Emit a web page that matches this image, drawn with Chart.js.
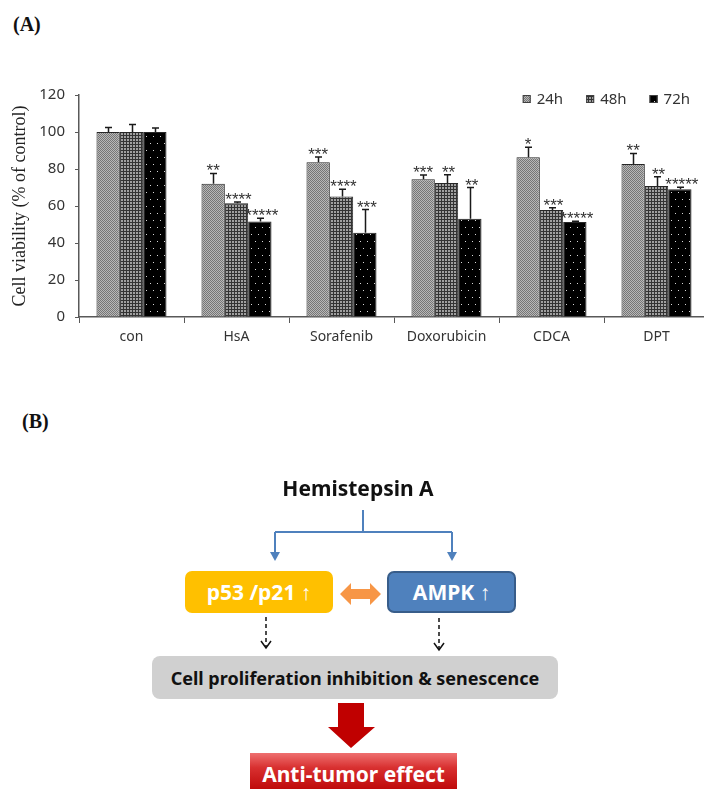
<!DOCTYPE html>
<html>
<head>
<meta charset="utf-8">
<script src="https://cdn.jsdelivr.net/npm/chart.js@4/dist/chart.umd.min.js"></script>
<style>
  html, body { margin:0; padding:0; background:#fff; }
  body { width:704px; height:789px; overflow:hidden; position:relative; }
  #wrap { position:absolute; left:0; top:0; width:716px; height:370px; }
  .lbl { position:absolute; font-family:"Liberation Serif", serif; font-weight:bold; font-size:20px; color:#111; }
  .box { position:absolute; display:flex; align-items:center; justify-content:center; box-sizing:border-box;
         font-family:"Noto Sans", sans-serif; font-weight:bold; white-space:nowrap; }
  svg { position:absolute; left:0; top:0; }
</style>
</head>
<body>
<div class="lbl" style="left:13px; top:13px;">(A)</div>
<div id="wrap"><canvas id="c" width="716" height="370"></canvas></div>

<div class="lbl" style="left:22px; top:410px;">(B)</div>
<svg width="704" height="789">
  <g stroke="#4F81BD" stroke-width="2" fill="none">
    <path d="M363 510 V532 M275 532 H452 M275 532 V553 M452 532 V553"/>
  </g>
  <polygon points="270,552 280,552 275,561" fill="#4F81BD"/>
  <polygon points="447,552 457,552 452,561" fill="#4F81BD"/>
  <polygon points="340,594 351,583 351,589 370,589 370,583 381,594 370,605 370,599 351,599 351,605" fill="#F79646"/>
  <g stroke="#111" stroke-width="1.5" fill="none">
    <path d="M266 617 V647" stroke-dasharray="4,3"/>
    <path d="M261 641 L266 648 L271 641"/>
    <path d="M439 618 V649" stroke-dasharray="4,3"/>
    <path d="M434 643 L439 650 L444 643"/>
  </g>
  <polygon points="338,703 364,703 364,727 375,727 351,748 328,727 338,727" fill="#C00000"/>
</svg>
<div class="box" style="left:273px; top:475px; width:170px; height:26px; font-size:21px; color:#111;">Hemistepsin A</div>
<div class="box" style="left:185px; top:571px; width:148px; height:42px; border-radius:7px; background:#FFC000; color:#fff; font-size:21px;">p53 /p21 ↑</div>
<div class="box" style="left:387px; top:571px; width:129px; height:42px; border-radius:7px; background:#4F81BD; border:2px solid #385D8A; color:#fff; font-size:21px;">AMPK ↑</div>
<div class="box" style="left:152px; top:656px; width:406px; height:43px; border-radius:8px; background:#D0D0D0; color:#111; font-size:18px;">Cell proliferation inhibition &amp; senescence</div>
<div class="box" style="left:250px; top:753px; width:207px; height:42px; background:linear-gradient(#EE7070 0%, #D83030 35%, #B80000 100%); color:#fff; font-size:21px;">Anti-tumor effect</div>

<script>
// ---------------- data ----------------
const categories = ['con', 'HsA', 'Sorafenib', 'Doxorubicin', 'CDCA', 'DPT'];
const seriesLabels = ['24h', '48h', '72h'];
const values24 = [100, 72.0, 83.6, 74.5, 86.3, 82.7];
const values48 = [100, 61.5, 65.2, 72.4, 57.8, 70.8];
const values72 = [100, 51.6, 45.5, 53.1, 51.3, 69.0];
const err24 = [2.5, 5.6, 2.9, 2.2, 5.4, 5.7];
const err48 = [4.0, 0.6, 3.8, 4.5, 1.2, 5.0];
const err72 = [2.2, 1.8, 12.6, 16.9, 0.5, 1.2];
const sig24 = ['', '**', '***', '***', '*', '**'];
const sig48 = ['', '****', '****', '**', '***', '**'];
const sig72 = ['', '*****', '***', '**', '*****', '*****'];
const yTicks = [0, 20, 40, 60, 80, 100, 120];

const errs = [err24, err48, err72];
const sigs = [sig24, sig48, sig72];

// ---------------- patterns ----------------
function pat(w, h, draw) {
  const c = document.createElement('canvas'); c.width = w; c.height = h;
  const g = c.getContext('2d'); draw(g);
  return document.getElementById('c').getContext('2d').createPattern(c, 'repeat');
}
const p24 = pat(4, 4, g => {
  g.fillStyle = '#b8b8b8'; g.fillRect(0, 0, 4, 4);
  g.fillStyle = '#767676';
  [[0,0],[1,1],[2,0],[3,1],[0,2],[1,3],[2,2],[3,3]].forEach(([x,y]) => g.fillRect(x, y, 1, 1));
});
const p48 = pat(3, 3, g => {
  g.fillStyle = '#a0a0a0'; g.fillRect(0, 0, 3, 3);
  g.fillStyle = '#333333'; g.fillRect(0, 0, 1, 3); g.fillRect(0, 0, 3, 1);
});
const p72 = pat(14, 14, g => {
  g.fillStyle = '#000'; g.fillRect(0, 0, 14, 14);
  g.fillStyle = '#d8d8d8';
  [[3,3],[10,3],[6,10],[13,10]].forEach(([x,y]) => g.fillRect(x, y, 1, 1));
});
const patterns = [p24, p48, p72];

// ---------------- plugins ----------------
const errorPlugin = {
  id: 'errs',
  afterDatasetsDraw(chart) {
    const ctx = chart.ctx, ys = chart.scales.y;
    ctx.save();
    chart.data.datasets.forEach((ds, di) => {
      const meta = chart.getDatasetMeta(di);
      meta.data.forEach((bar, i) => {
        const top = ys.getPixelForValue(ds.data[i] + errs[di][i]);
        const x = Math.round(bar.x) + 0.5;
        ctx.strokeStyle = '#1a1a1a'; ctx.lineWidth = 1.5;
        ctx.beginPath();
        ctx.moveTo(x, bar.y); ctx.lineTo(x, top);
        ctx.moveTo(x - 3.5, top); ctx.lineTo(x + 3.5, top);
        ctx.stroke();
        const s = sigs[di][i];
        if (s) {
          ctx.fillStyle = '#333';
          ctx.font = '17px "Liberation Sans", sans-serif';
          ctx.textAlign = 'center'; ctx.textBaseline = 'alphabetic';
          ctx.fillText(s, bar.x + (di > 0 ? 2 : 0), top + 3);
        }
      });
    });
    ctx.restore();
  }
};

const legendPlugin = {
  id: 'customLegend',
  afterDraw(chart) {
    const ctx = chart.ctx;
    ctx.save();
    ctx.font = '15px "Noto Sans", sans-serif';
    const box = 8, gapBT = 6, gapItem = 23;
    const widths = chart.data.datasets.map(d => ctx.measureText(d.label).width);
    const total = widths.reduce((a, w) => a + box + gapBT + w, 0) + gapItem * (widths.length - 1);
    let x = 690 - total;
    const yc = 99;
    chart.data.datasets.forEach((d, i) => {
      ctx.fillStyle = d.backgroundColor;
      ctx.fillRect(x, yc - 4, box, box);
      ctx.strokeStyle = '#404040'; ctx.lineWidth = 1;
      ctx.strokeRect(x + 0.5, yc - 3.5, box - 1, box - 1);
      ctx.fillStyle = '#333';
      ctx.textAlign = 'left'; ctx.textBaseline = 'middle';
      ctx.fillText(d.label, x + box + gapBT, yc + 1);
      x += box + gapBT + widths[i] + gapItem;
    });
    ctx.restore();
  }
};

// ---------------- chart ----------------
const seriesValues = [values24, values48, values72];
new Chart(document.getElementById('c'), {
  type: 'bar',
  data: {
    labels: categories,
    datasets: seriesLabels.map((lab, i) => ({
      label: lab,
      data: seriesValues[i],
      backgroundColor: patterns[i],
      borderColor: '#262626',
      borderWidth: 1,
      barPercentage: 1,
      categoryPercentage: 0.667
    }))
  },
  options: {
    responsive: false,
    animation: false,
    devicePixelRatio: 1,
    layout: { padding: { top: 95, right: 7, left: 0, bottom: 0 } },
    plugins: { legend: { display: false }, tooltip: { enabled: false } },
    scales: {
      x: {
        grid: { offset: true, drawOnChartArea: false, drawTicks: true, tickLength: 6, color: '#595959' },
        border: { display: true, color: '#595959', width: 1.5 },
        ticks: { color: '#333', font: { family: '"Noto Sans", sans-serif', size: 14 }, padding: 6, maxRotation: 0 },
        afterFit(s) { s.height = 53; }
      },
      y: {
        min: 0, max: 120,
        afterBuildTicks(s) { s.ticks = yTicks.map(v => ({ value: v })); },
        grid: { drawOnChartArea: false, drawTicks: true, tickLength: 4, color: '#595959' },
        border: { display: true, color: '#595959', width: 1.5 },
        ticks: { color: '#333', font: { family: '"Noto Sans", sans-serif', size: 15 }, padding: 10 },
        title: { display: true, text: 'Cell viability (% of control)', color: '#222',
                 font: { family: '"Liberation Serif", "Times New Roman", serif', size: 18 }, padding: { top: 9, bottom: 0 } },
        afterFit(s) { s.width = 79; }
      }
    }
  },
  plugins: [errorPlugin, legendPlugin]
});
</script>
</body>
</html>
